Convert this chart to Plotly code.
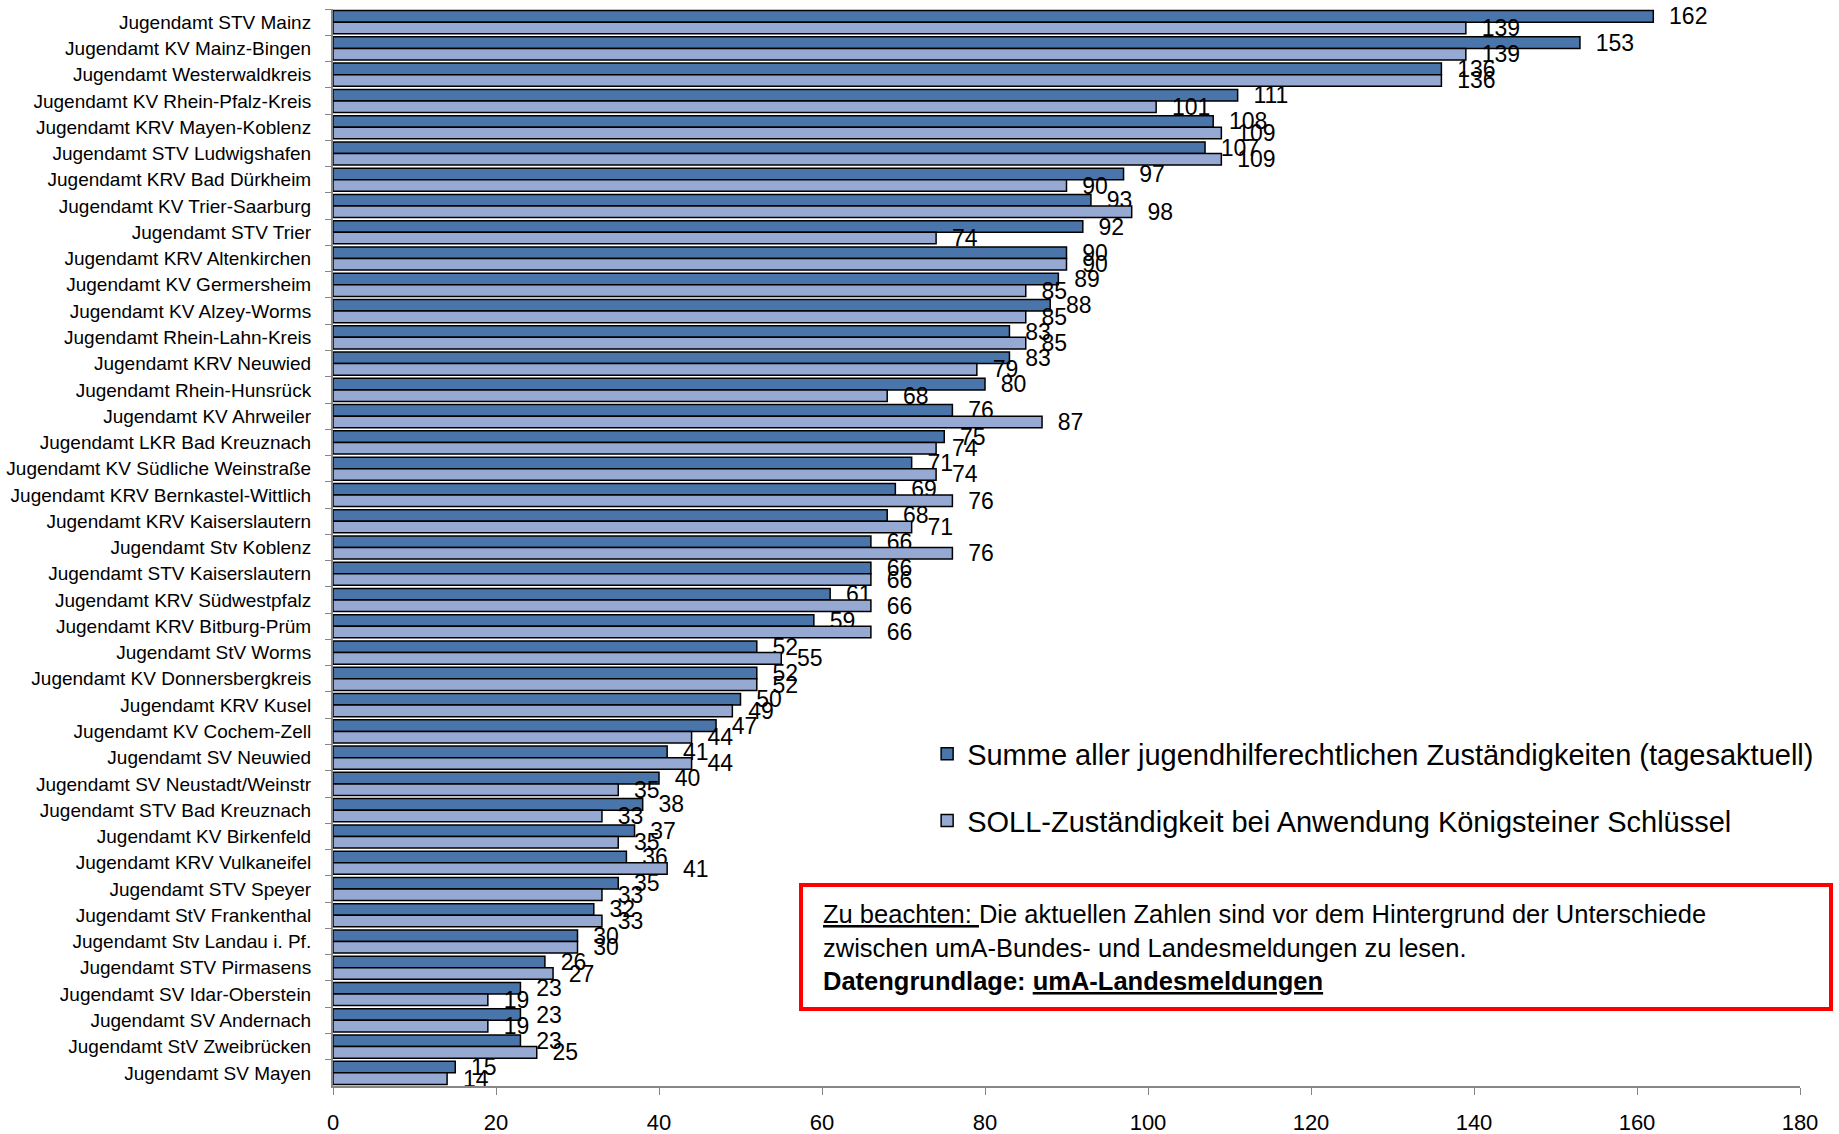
import plotly.graph_objects as go

categories = [
    "Jugendamt STV Mainz", "Jugendamt KV Mainz-Bingen", "Jugendamt Westerwaldkreis",
    "Jugendamt KV Rhein-Pfalz-Kreis", "Jugendamt KRV Mayen-Koblenz", "Jugendamt STV Ludwigshafen",
    "Jugendamt KRV Bad Dürkheim", "Jugendamt KV Trier-Saarburg", "Jugendamt STV Trier",
    "Jugendamt KRV Altenkirchen", "Jugendamt KV Germersheim", "Jugendamt KV Alzey-Worms",
    "Jugendamt Rhein-Lahn-Kreis", "Jugendamt KRV Neuwied", "Jugendamt Rhein-Hunsrück",
    "Jugendamt KV Ahrweiler", "Jugendamt LKR Bad Kreuznach", "Jugendamt KV Südliche Weinstraße",
    "Jugendamt KRV Bernkastel-Wittlich", "Jugendamt KRV Kaiserslautern", "Jugendamt Stv Koblenz",
    "Jugendamt STV Kaiserslautern", "Jugendamt KRV Südwestpfalz", "Jugendamt KRV Bitburg-Prüm",
    "Jugendamt StV Worms", "Jugendamt KV Donnersbergkreis", "Jugendamt KRV Kusel",
    "Jugendamt KV Cochem-Zell", "Jugendamt SV Neuwied", "Jugendamt SV Neustadt/Weinstr",
    "Jugendamt STV Bad Kreuznach", "Jugendamt KV Birkenfeld", "Jugendamt KRV Vulkaneifel",
    "Jugendamt STV Speyer", "Jugendamt StV Frankenthal", "Jugendamt Stv Landau i. Pf.",
    "Jugendamt STV Pirmasens", "Jugendamt SV Idar-Oberstein", "Jugendamt SV Andernach",
    "Jugendamt StV Zweibrücken", "Jugendamt SV Mayen",
]

summe_ist = [162, 153, 136, 111, 108, 107, 97, 93, 92, 90, 89, 88, 83, 83, 80, 76, 75, 71, 69, 68,
             66, 66, 61, 59, 52, 52, 50, 47, 41, 40, 38, 37, 36, 35, 32, 30, 26, 23, 23, 23, 15]
soll_koenigstein = [139, 139, 136, 101, 109, 109, 90, 98, 74, 90, 85, 85, 85, 79, 68, 87, 74, 74, 76, 71,
                    76, 66, 66, 66, 55, 52, 49, 44, 44, 35, 33, 35, 41, 33, 33, 30, 27, 19, 19, 25, 14]

series_names = [
    "Summe aller jugendhilferechtlichen Zuständigkeiten (tagesaktuell)",
    "SOLL-Zuständigkeit bei Anwendung Königsteiner Schlüssel",
]
x_ticks = [0, 20, 40, 60, 80, 100, 120, 140, 160, 180]

FONT = "Liberation Sans, Arial, sans-serif"
DARK = "#4A75AA"
LIGHT = "#95A9D3"

fig = go.Figure()
for name, vals, col, grp in [(series_names[0], summe_ist, DARK, "a"),
                             (series_names[1], soll_koenigstein, LIGHT, "b")]:
    fig.add_trace(go.Bar(
        y=categories, x=vals, name=name, orientation="h",
        marker=dict(color=col, line=dict(color="black", width=1.5)),
        text=vals, texttemplate="\u00a0\u00a0%{x}", textposition="outside",
        constraintext="none", cliponaxis=False,
        textfont=dict(family=FONT, size=23, color="black"),
        legendgroup=grp,
    ))

fig.update_layout(
    width=1839, height=1134,
    margin=dict(l=333, r=39, t=9, b=48),
    barmode="group", bargap=0.12, bargroupgap=0,
    plot_bgcolor="white", paper_bgcolor="white",
    font=dict(family=FONT, color="black"),
    showlegend=True,
    legend=dict(x=0.405, y=0.332, xanchor="left", yanchor="top",
                font=dict(size=29, family=FONT), tracegroupgap=26,
                bgcolor="rgba(0,0,0,0)"),
    xaxis=dict(range=[0, 180], tickvals=x_ticks, showgrid=False, zeroline=False,
               showline=True, linecolor="#868686", linewidth=2,
               ticks="outside", ticklen=7, tickcolor="#868686", tickwidth=1,
               tickfont=dict(size=22, family=FONT), ticklabelstandoff=9,
               automargin=False),
    yaxis=dict(autorange="reversed", showgrid=False, showline=True,
               linecolor="#868686", linewidth=2, ticks="outside", ticklen=6,
               tickcolor="#868686", tickson="boundaries",
               tickfont=dict(size=19, family=FONT), ticklabelstandoff=16,
               automargin=False),
)

# red note box
fig.add_shape(type="rect", xref="paper", yref="paper",
              x0=(801 - 333) / 1467, x1=(1831 - 333) / 1467,
              y0=(1086 - 1009) / 1077, y1=(1086 - 885) / 1077,
              line=dict(color="#FF0000", width=4), fillcolor="white", layer="above")

note_lines = [
    "<u>Zu beachten: </u>Die aktuellen Zahlen sind vor dem Hintergrund der Unterschiede",
    "zwischen umA-Bundes- und Landesmeldungen zu lesen.",
    "<b>Datengrundlage: <u>umA-Landesmeldungen</u></b>",
]
for i, line in enumerate(note_lines):
    fig.add_annotation(xref="paper", yref="paper", x=(821 - 333) / 1467,
                       y=(1086 - (914 + 33.5 * i)) / 1077, xanchor="left", yanchor="middle",
                       text=line, showarrow=False, align="left",
                       font=dict(size=25.5, family=FONT, color="black"))

# remove the default 8px page margin so the figure fills the window exactly
fig.write_html("out.html", config={"displayModeBar": False},
               post_script="document.body.style.margin='0';")
